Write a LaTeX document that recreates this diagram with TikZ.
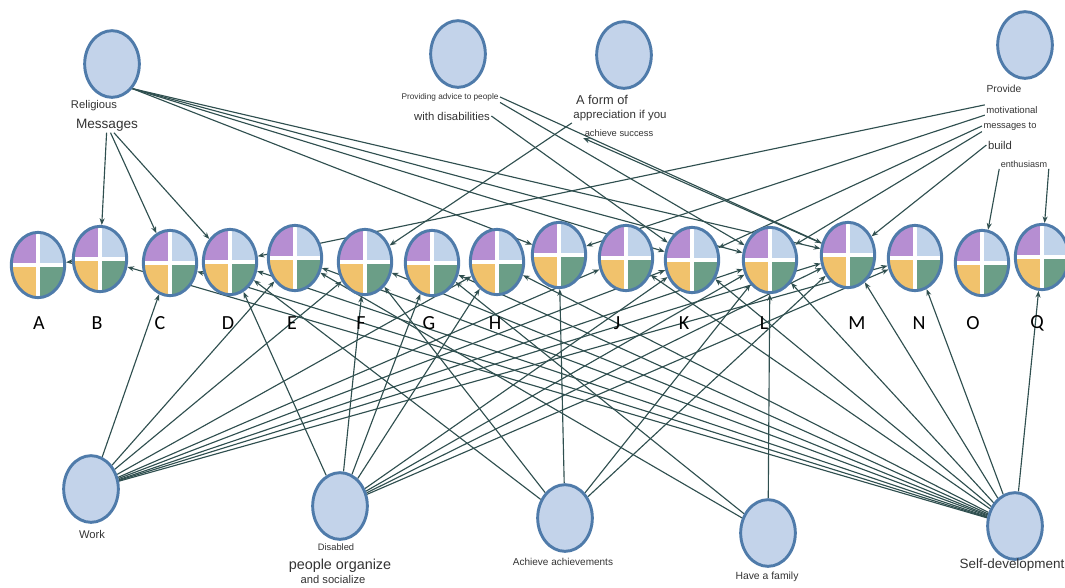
\documentclass[tikz,border=0pt]{standalone}
\usepackage{fontspec}
\setmainfont{Liberation Sans}
\newfontfamily\letterfont{Carlito}
\usetikzlibrary{shapes.geometric,arrows.meta,backgrounds}

\definecolor{rimblue}{HTML}{4F7BAA}
\definecolor{fillblue}{HTML}{C3D3EA}
\definecolor{qpurple}{HTML}{B68ED2}
\definecolor{qblue}{HTML}{C0D3EA}
\definecolor{qyellow}{HTML}{F1C26C}
\definecolor{qgreen}{HTML}{6B9E87}
\definecolor{linkcol}{HTML}{2F4F4F}

\tikzset{
  factor/.style={ellipse, draw=rimblue, fill=fillblue, line width=2.2pt,
    minimum width=41pt, minimum height=50pt, inner sep=0pt},
  quad/.style={ellipse, draw=rimblue, line width=2.2pt,
    minimum width=40pt, minimum height=49pt, inner sep=0pt,
    path picture={
      \fill[qpurple] (path picture bounding box.north west) rectangle (path picture bounding box.center);
      \fill[qblue] (path picture bounding box.north east) rectangle (path picture bounding box.center);
      \fill[qyellow] (path picture bounding box.south west) rectangle (path picture bounding box.center);
      \fill[qgreen] (path picture bounding box.south east) rectangle (path picture bounding box.center);
      \draw[white, line width=2.4pt] (path picture bounding box.north) -- (path picture bounding box.south)
        (path picture bounding box.west) -- (path picture bounding box.east);
    }},
  tag/.style={font=\fontsize{#1}{#1}\selectfont, inner sep=1pt, text=black!80},
  letter/.style={font=\letterfont\fontsize{15}{15}\selectfont, inner sep=0pt},
  link/.style={draw=linkcol, line width=0.85pt, -{Stealth[length=5pt,width=3.8pt]}},
}

\begin{document}
\begin{tikzpicture}[x=0.75pt, y=-0.75pt]
  \useasboundingbox (0,0) rectangle (1065,587);

  % Top nodes
  \node[factor] (rel)  at (112,64)  {};
  \node[factor] (adv)  at (458,54)  {};
  \node[factor] (app)  at (624,55)  {};
  \node[factor] (prov) at (1025,45) {};

  \node[tag=8.4]  (relA) at (94,106)  {Religious};
  \node[tag=10.2] (relB) at (107,125) {Messages};
  \node[tag=6.2]  (advA) at (450,97)  {Providing advice to people};
  \node[tag=8.5]  (advB) at (452,116) {with disabilities};
  \node[tag=9.6]  (appA) at (602,100) {A form of};
  \node[tag=8.6]  (appB) at (620,116) {appreciation if you};
  \node[tag=7]    (appC) at (619,133) {achieve success};
  \node[tag=7.7]  (provA) at (1004,89) {Provide};
  \node[tag=7.2]  (provB) at (1012,110) {motivational};
  \node[tag=7]    (provC) at (1010,126) {messages to};
  \node[tag=8.5]  (provD) at (1000,145) {build};
  \node[tag=6.8]  (provE) at (1024,164) {enthusiasm};

  % Middle nodes
  \foreach \n/\x/\y in {A/38/265, B/100/259, C/170/263, D/230/262, E/295/258,
      F/365/262, G/432/263, H/497/262, I/559/255, J/626/258, K/692/260,
      L/770/260, M/848/255, N/915/258, O/982/263, Q/1042/257}
    \node[quad] (m\n) at (\x,\y) {};

  \foreach \n/\x in {A/39, B/97, C/160, D/228, E/292, F/361, G/429, H/495,
      J/617, K/684, L/764, M/857, N/919, O/973, Q/1037}
    \node[letter] (l\n) at (\x,323) {\n};

  % Bottom nodes
  \node[factor] (work) at (91,489)   {};
  \node[factor] (dis)  at (340,506)  {};
  \node[factor] (ach)  at (565,518)  {};
  \node[factor] (fam)  at (768,533)  {};
  \node[factor] (self) at (1015,526) {};

  \node[tag=8.4]  (workA) at (92,534)  {Work};
  \node[tag=7]    (disA)  at (336,547) {Disabled};
  \node[tag=10.8] (disB)  at (340,566) {people organize};
  \node[tag=8.4]  (disC)  at (333,579) {and socialize};
  \node[tag=7.5]  (achA)  at (563,562) {Achieve achievements};
  \node[tag=7.8]  (famA)  at (767,577) {Have a family};
  \node[tag=10.1] (selfA) at (1012,565) {Self-development};

  % Edges
  \begin{scope}[on background layer]
    \foreach \t in {B,C,D} \draw[link] (relB) -- (m\t);
    \foreach \t in {I,K,L,M} \draw[link] (rel.south east) -- (m\t);
    \foreach \s/\t in {advA.east/M, advA.south east/L, advB.east/K}
      \draw[link] (\s) -- (m\t);
    \draw[link] (appB.south west) -- (mF);
    \draw[link] (mM) -- (appC.south west);
    \foreach \s/\t in {provB.north west/D, provB.south west/I, provC.west/K,
        provC.south west/L, provD.west/M}
      \draw[link] (\s) -- (m\t);
    \draw[link] (provE.south west) -- (mO);
    \draw[link] (provE.south east) -- (mQ);
    \draw[link] (mB) -- (mA);

    \foreach \t in {C,E,F,H,J,K,L,M,N} \draw[link] (work) -- (m\t);
    \foreach \t in {D,F,G,H,K,L,M,N} \draw[link] (dis) -- (m\t);
    \foreach \t in {D,F,I,L,M} \draw[link] (ach) -- (m\t);
    \foreach \t in {E,G,L} \draw[link] (fam) -- (m\t);
    \foreach \t in {B,C,D,E,F,G,H,J,K,L,M,N,Q} \draw[link] (self) -- (m\t);
  \end{scope}
\end{tikzpicture}
\end{document}
